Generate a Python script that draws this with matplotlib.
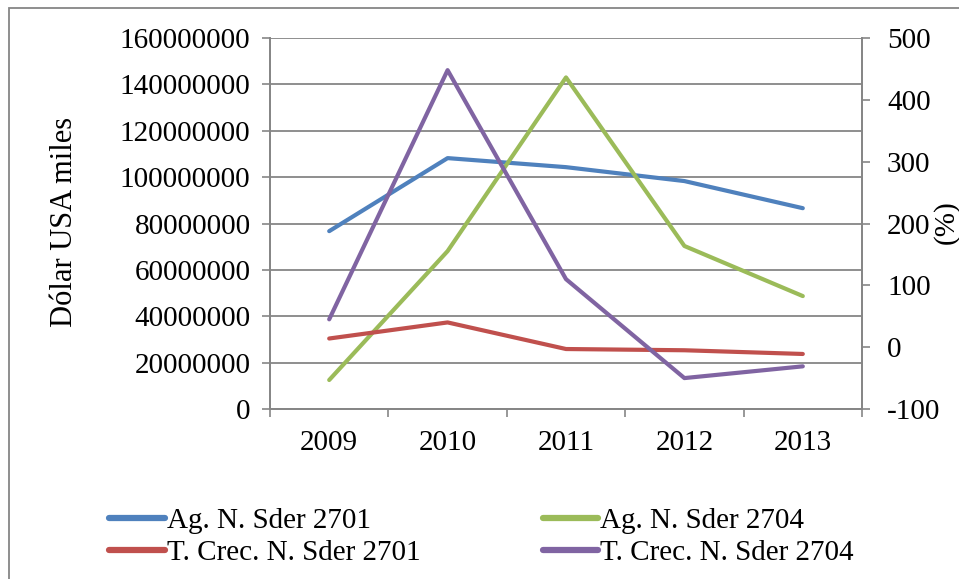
import matplotlib
matplotlib.use("Agg")
import matplotlib.pyplot as plt
from matplotlib.patches import Rectangle

# data
years = ["2009", "2010", "2011", "2012", "2013"]
ag_2701 = [76700000, 108200000, 104300000, 98300000, 86600000]
ag_2704 = [12500000, 68100000, 143000000, 70300000, 48700000]
tc_2701 = [14, 40, -3, -5, -11]
tc_2704 = [45, 448, 110, -50, -31]

left_ticks = [0, 20000000, 40000000, 60000000, 80000000,
              100000000, 120000000, 140000000, 160000000]
right_ticks = [-100, 0, 100, 200, 300, 400, 500]

BLUE = "#4F81BD"
RED = "#C0504D"
GREEN = "#9BBB59"
PURPLE = "#8064A2"
GRAY = "#868686"

plt.rcParams["font.family"] = ["Liberation Serif", "DejaVu Serif"]
FS = 21

W, H = 959, 579
fig = plt.figure(figsize=(W / 100, H / 100), dpi=100)
ax = fig.add_axes([270 / W, 1 - 409 / H, (862 - 270) / W, (409 - 38) / H])
ax2 = ax.twinx()

x = list(range(len(years)))
l1, = ax.plot(x, ag_2701, color=BLUE, lw=3, solid_capstyle="round", label="Ag. N. Sder 2701")
l2, = ax.plot(x, ag_2704, color=GREEN, lw=3, solid_capstyle="round", label="Ag. N. Sder 2704")
l3, = ax2.plot(x, tc_2701, color=RED, lw=3, solid_capstyle="round", label="T. Crec. N. Sder 2701")
l4, = ax2.plot(x, tc_2704, color=PURPLE, lw=3, solid_capstyle="round", label="T. Crec. N. Sder 2704")

ax.set_xlim(-0.5, len(years) - 0.5)
ax.set_ylim(left_ticks[0], left_ticks[-1])
ax2.set_ylim(right_ticks[0], right_ticks[-1])

ax.set_yticks(left_ticks)
ax.set_yticklabels([str(v) for v in left_ticks])
ax2.set_yticks(right_ticks)
ax2.set_yticklabels([str(v) for v in right_ticks])

# category axis: ticks at boundaries, labels centred
ax.set_xticks([i - 0.5 for i in range(len(years) + 1)])
ax.set_xticklabels([])
ax.set_xticks(x, minor=True)
ax.set_xticklabels(years, minor=True)
ax.tick_params(axis="x", which="major", length=6, width=1.2, color=GRAY, direction="out")
ax.tick_params(axis="x", which="minor", length=0, labelsize=FS, pad=15)
ax.tick_params(axis="y", length=6, width=1.2, color=GRAY, labelsize=FS, pad=8)
ax2.tick_params(axis="y", length=6, width=1.2, color=GRAY, labelsize=FS, pad=12)

ax.yaxis.grid(True, color=GRAY, lw=1.3)
ax.set_axisbelow(True)
for a in (ax, ax2):
    a.spines["top"].set_visible(False)
    for s in ("left", "right", "bottom"):
        a.spines[s].set_color(GRAY)
        a.spines[s].set_linewidth(1.3)
ax2.set_zorder(ax.get_zorder() + 1)

fig.text(64 / W, 1 - 222 / H, "Dólar USA miles", rotation=90, fontsize=FS + 1,
         ha="center", va="center")
fig.text(946 / W, 1 - 222 / H, "(%)", rotation=90, fontsize=FS,
         ha="center", va="center")

# matplotlib fills legend columns first, so order handles to get row-wise layout
leg = fig.legend(handles=[l1, l3, l2, l4], ncol=2, loc="upper left",
                 bbox_to_anchor=(89 / W, 1 - 487 / H), frameon=False, fontsize=FS,
                 handlelength=1.9, handletextpad=0.07, columnspacing=4.2,
                 labelspacing=0.2, borderpad=0.2)
for h in leg.legend_handles:
    h.set_linewidth(4.5)

fig.add_artist(Rectangle((9 / W, -0.1), 1.2, (H - 8) / H + 0.1,
                         transform=fig.transFigure, fill=False,
                         edgecolor=GRAY, lw=1.3, clip_on=False))

fig.savefig("out.png", dpi=100)
